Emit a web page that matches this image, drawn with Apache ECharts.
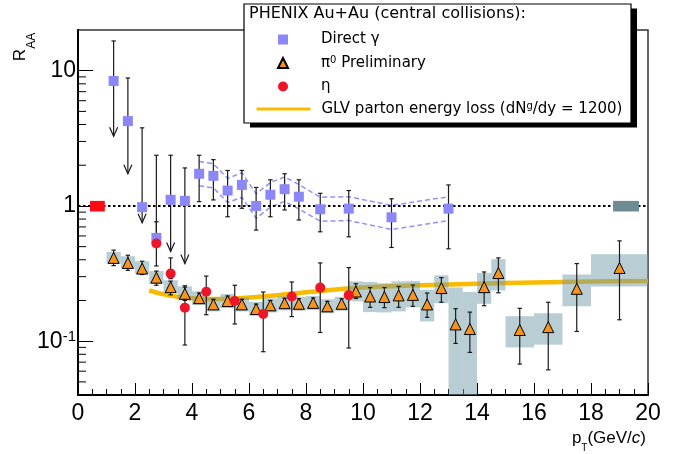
<!DOCTYPE html>
<html><head><meta charset="utf-8">
<script src="https://cdn.jsdelivr.net/npm/echarts@6/dist/echarts.min.js"></script>
<style>html,body{margin:0;padding:0;background:#fff}#c{width:683px;height:454px}</style>
</head><body><div id="c"></div>
<script>
// ---------------- data ----------------
const pi0X = [1.25,1.75,2.25,2.75,3.25,3.75,4.25,4.75,5.25,5.75,6.25,6.75,7.25,7.75,8.25,8.75,9.25,9.75,10.25,10.75,11.25,11.75,12.25,12.75,13.25,13.75,14.25,14.75,15.5,16.5,17.5,19];
const pi0BinW = [0.5,0.5,0.5,0.5,0.5,0.5,0.5,0.5,0.5,0.5,0.5,0.5,0.5,0.5,0.5,0.5,0.5,0.5,0.5,0.5,0.5,0.5,0.5,0.5,0.5,0.5,0.5,0.5,1,1,1,2];
const pi0Y = [0.413,0.379,0.344,0.295,0.251,0.224,0.208,0.187,0.198,0.187,0.173,0.184,0.191,0.189,0.192,0.181,0.189,0.233,0.214,0.212,0.218,0.220,0.187,0.247,0.133,0.123,0.251,0.319,0.121,0.127,0.244,0.348];
const pi0StatHi = [0.471,0.432,0.390,0.330,0.278,0.257,0.227,0.204,0.216,0.204,0.188,0.200,0.208,0.206,0.209,0.197,0.206,0.266,0.249,0.249,0.254,0.260,0.227,0.295,0.174,0.164,0.325,0.413,0.175,0.194,0.375,0.552];
const pi0StatLo = [0.362,0.334,0.311,0.259,0.220,0.200,0.191,0.172,0.182,0.172,0.159,0.169,0.175,0.174,0.176,0.166,0.174,0.207,0.178,0.177,0.178,0.181,0.150,0.194,0.0963,0.0826,0.183,0.228,0.0677,0.0614,0.118,0.144];
const pi0SysHi = [0.457,0.425,0.390,0.330,0.282,0.254,0.234,0.211,0.223,0.211,0.195,0.207,0.215,0.213,0.216,0.204,0.213,0.277,0.274,0.268,0.277,0.278,0.240,0.307,0.249,0.231,0.319,0.404,0.153,0.161,0.311,0.440];
const pi0SysLo = [0.375,0.344,0.316,0.266,0.227,0.200,0.185,0.166,0.176,0.166,0.154,0.163,0.169,0.168,0.170,0.161,0.168,0.197,0.164,0.163,0.166,0.178,0.140,0.191,0.03,0.03,0.189,0.237,0.0899,0.0942,0.181,0.254];

const etaX = [2.75,3.25,3.75,4.5,5.5,6.5,7.5,8.5,9.5];
const etaY = [0.528,0.316,0.177,0.232,0.198,0.159,0.214,0.249,0.219];
const etaErrHi = [0.764,0.413,0.251,0.303,0.259,0.231,0.274,0.379,0.350];
const etaErrLo = [0.36,0.29,0.0937,0.157,0.134,0.0836,0.152,0.116,0.089];

const gammaX = [1.25,1.75,2.25,2.75,3.25,3.75,4.25,4.75,5.25,5.75,6.25,6.75,7.25,7.75,8.5,9.5,11,13];
const gammaY = [8.4,4.24,0.98,0.58,1.11,1.09,1.73,1.67,1.30,1.43,1.00,1.21,1.33,1.17,0.945,0.955,0.824,0.955];
const gammaErrHi = [16.6,8.84,3.78,2.37,2.37,1.91,2.37,2.20,1.83,1.83,1.37,1.56,1.73,1.56,1.24,1.30,1.13,1.43];
const gammaErrLo = [3.27,1.73,0.75,0.53,0.46,0.375,1.076,1.108,0.832,0.961,0.663,0.832,0.934,0.787,0.644,0.591,0.493,0.482];
const gammaUpperLimit = [1,1,1,0,1,1,0,0,0,0,0,0,0,0,0,0,0,0];
const gammaSysX = [4.25,4.75,5.25,5.75,6.25,6.75,7.25,7.75,8.5,9.5,11,13];
const gammaSysHi = [2.13,2.05,1.60,1.76,1.23,1.49,1.64,1.44,1.16,1.17,1.01,1.17];
const gammaSysLo = [1.41,1.36,1.06,1.16,0.81,0.98,1.08,0.95,0.77,0.78,0.67,0.78];

const glvX = [2.5,3,3.5,4,5,6,7,8,10,12,14,16,18,20];
const glvY = [0.237,0.222,0.213,0.208,0.205,0.210,0.219,0.230,0.249,0.259,0.266,0.272,0.276,0.279];

const normX = [0.68, 19.23];
const normW = [0.52, 0.91];
const normLo = [0.91, 0.91];
const normHi = [1.09, 1.09];

const yMajorTicks = [0.1, 1, 10];
const yTickLabels = ['{b|10}{s|-1}', '{b|1}', '{b|10}'];
const yMinorTicks = [0.05,0.06,0.07,0.08,0.09,0.2,0.3,0.4,0.5,0.6,0.7,0.8,0.9,2,3,4,5,6,7,8,9];

const names = {
  gamma: 'Direct γ',
  pi0: 'π0 Preliminary',
  eta: 'η',
  glv: 'GLV parton energy loss (dNg/dy = 1200)'
};
const legendRich = {};
legendRich[names.gamma] = '{t|Direct γ}';
legendRich[names.pi0] = '{t|π}{u|0}{t| Preliminary}';
legendRich[names.eta] = '{t|η}';
legendRich[names.glv] = '{t|GLV parton energy loss (dN}{u|g}{t|/dy = 1200)}';

// ---------------- render helpers ----------------
const FONT = 'Liberation Sans, Arial, sans-serif';
const LFONT = 'DejaVu Sans, sans-serif';
const ERR = '#1a1a1a';

function boxItem(params, api) {
  const x = api.value(0), w = api.value(1), lo = api.value(2), hi = api.value(3);
  const p1 = api.coord([x - w / 2, hi]);
  const p2 = api.coord([x + w / 2, lo]);
  const cs = params.coordSys;
  const r = echarts.graphic.clipRectByRect(
    {x: p1[0], y: p1[1], width: p2[0] - p1[0], height: p2[1] - p1[1]},
    {x: cs.x, y: cs.y, width: cs.width, height: cs.height});
  return r && {type: 'rect', shape: r, style: {fill: api.visual('color')}};
}

function errItem(params, api) {
  const x = api.value(0), lo = api.value(1), hi = api.value(2), lim = api.value(3);
  const t = api.coord([x, hi]), b = api.coord([x, lo]);
  const c = 2.2;
  const st = {stroke: ERR, lineWidth: 1.2, fill: null};
  const ch = [
    {type: 'line', shape: {x1: t[0], y1: t[1], x2: b[0], y2: b[1]}, style: st},
    {type: 'line', shape: {x1: t[0] - c, y1: t[1], x2: t[0] + c, y2: t[1]}, style: st}
  ];
  if (lim === 1) {
    ch.push({type: 'polyline', shape: {points: [[b[0] - 4, b[1] - 9], [b[0], b[1]], [b[0] + 4, b[1] - 9]]}, style: st});
  } else {
    ch.push({type: 'line', shape: {x1: b[0] - c, y1: b[1], x2: b[0] + c, y2: b[1]}, style: st});
  }
  return {type: 'group', children: ch};
}

function minorTickItem(params, api) {
  const p = api.coord([0, api.value(1)]);
  return {type: 'line', shape: {x1: p[0], y1: p[1], x2: p[0] + 8, y2: p[1]}, style: {stroke: '#000', lineWidth: 1}};
}

const chart = echarts.init(document.getElementById('c'));
chart.setOption({
  animation: false,
  backgroundColor: '#fff',
  grid: {left: 78, right: 35, top: 30, bottom: 59, show: true, borderColor: '#333', borderWidth: 1.5, outerBoundsMode: 'none'},
  title: {
    text: 'PHENIX Au+Au (central collisions):', left: 249, top: 6, padding: 0, z: 20,
    textStyle: {fontFamily: LFONT, fontSize: 16, fontWeight: 'normal', color: '#000'}
  },
  legend: [
    {
      data: [names.gamma, names.pi0, names.eta], orient: 'vertical', left: 277, top: 32,
      itemWidth: 10, itemHeight: 10, itemGap: 8.5, selectedMode: false, z: 20, padding: 0,
      formatter: n => legendRich[n],
      textStyle: {color: '#000', fontFamily: LFONT, fontSize: 15, padding: [0, 0, 0, 28],
        rich: {t: {fontFamily: LFONT, fontSize: 15, color: '#000'}, u: {fontFamily: LFONT, fontSize: 10, color: '#000', verticalAlign: 'top'}}}
    },
    {
      data: [names.glv], orient: 'vertical', left: 255, top: 101.5,
      itemWidth: 54, itemHeight: 12, selectedMode: false, z: 20, padding: 0,
      lineStyle: {width: 3, opacity: 1},
      itemStyle: {opacity: 0},
      formatter: n => legendRich[n],
      textStyle: {color: '#000', fontFamily: LFONT, fontSize: 15, padding: [0, 0, 0, 6],
        rich: {t: {fontFamily: LFONT, fontSize: 15, color: '#000'}, u: {fontFamily: LFONT, fontSize: 10, color: '#000', verticalAlign: 'top'}}}
    }
  ],
  graphic: {elements: [
    {type: 'rect', z: 10, shape: {x: 250, y: 8.5, width: 387, height: 119}, style: {fill: '#000'}},
    {type: 'rect', z: 11, shape: {x: 244, y: 4, width: 387, height: 119}, style: {fill: '#fff', stroke: '#000', lineWidth: 1.2}},
    {type: 'text', z: 12, x: 25, y: 47, rotation: Math.PI / 2,
      style: {text: '{r|R}{s|AA}', align: 'center', verticalAlign: 'middle',
        rich: {r: {fontFamily: FONT, fontSize: 17, lineHeight: 26, verticalAlign: 'top', fill: '#000', color: '#000'},
               s: {fontFamily: FONT, fontSize: 12, verticalAlign: 'bottom', fill: '#000', color: '#000'}}}},
    {type: 'text', z: 12, x: 646, y: 430,
      style: {text: '{n|p}{t|T}{n|(GeV/}{i|c}{n|)}', align: 'right', verticalAlign: 'top',
        rich: {n: {fontFamily: FONT, fontSize: 17, lineHeight: 23, verticalAlign: 'top', fill: '#000', color: '#000'},
               i: {fontFamily: FONT, fontStyle: 'italic', fontSize: 17, lineHeight: 23, verticalAlign: 'top', fill: '#000', color: '#000'},
               t: {fontFamily: FONT, fontSize: 10, verticalAlign: 'bottom', fill: '#000', color: '#000'}}}}
  ]},
  xAxis: {
    type: 'value', min: 0, max: 20, interval: 2,
    axisLine: {show: true, lineStyle: {color: '#000', width: 2}},
    axisTick: {show: true, inside: true, length: 12, lineStyle: {color: '#000', width: 1}},
    minorTick: {show: true, splitNumber: 4, length: 6, lineStyle: {color: '#000', width: 1}},
    axisLabel: {fontFamily: FONT, fontSize: 23, color: '#000', margin: 7},
    splitLine: {show: false}
  },
  yAxis: {
    type: 'log', logBase: 10, min: 0.04, max: 20,
    axisLine: {show: true, lineStyle: {color: '#000', width: 2}},
    axisTick: {show: true, inside: true, length: 15, lineStyle: {color: '#000', width: 1}},
    axisLabel: {
      margin: 2, color: '#000', showMinLabel: false, showMaxLabel: false,
      formatter: v => {
        for (let i = 0; i < yMajorTicks.length; i++) {
          if (Math.abs(Math.log10(v) - Math.log10(yMajorTicks[i])) < 1e-6) return yTickLabels[i];
        }
        return '';
      },
      rich: {b: {fontFamily: FONT, fontSize: 23, color: '#000'}, s: {fontFamily: FONT, fontSize: 15, color: '#000', verticalAlign: 'top'}}
    },
    splitLine: {show: false}
  },
  series: [
    {
      name: names.glv, type: 'line', z: 2, smooth: 0.4, symbol: 'none', silent: true,
      data: glvX.map((x, i) => [x, glvY[i]]),
      lineStyle: {color: '#f9bb00', width: 4.5}, itemStyle: {color: '#f9bb00'},
      markLine: {symbol: 'none', silent: true, label: {show: false},
        lineStyle: {color: '#000', width: 2, type: [2.5, 2.5]}, data: [{yAxis: 1}]}
    },
    {
      name: 'pi0 sys', type: 'custom', z: 3, silent: true, renderItem: boxItem,
      itemStyle: {color: 'rgba(115,155,170,0.5)'}, encode: {x: 0, y: [2, 3]},
      data: pi0X.map((x, i) => [x, pi0BinW[i], pi0SysLo[i], pi0SysHi[i]])
    },
    {
      name: 'norm red', type: 'custom', z: 6, silent: true, renderItem: boxItem,
      itemStyle: {color: '#ff0a14'}, encode: {x: 0, y: [2, 3]},
      data: [[normX[0], normW[0], normLo[0], normHi[0]]]
    },
    {
      name: 'norm grey', type: 'custom', z: 6, silent: true, renderItem: boxItem,
      itemStyle: {color: '#6e8c94'}, encode: {x: 0, y: [2, 3]},
      data: [[normX[1], normW[1], normLo[1], normHi[1]]]
    },
    {
      name: 'gamma sys hi', type: 'line', z: 3, symbol: 'none', silent: true,
      data: gammaSysX.map((x, i) => [x, gammaSysHi[i]]),
      lineStyle: {color: '#9590f5', width: 1.5, type: [5, 3]}
    },
    {
      name: 'gamma sys lo', type: 'line', z: 3, symbol: 'none', silent: true,
      data: gammaSysX.map((x, i) => [x, gammaSysLo[i]]),
      lineStyle: {color: '#9590f5', width: 1.5, type: [5, 3]}
    },
    {
      name: 'y minor ticks', type: 'custom', z: 4, silent: true, renderItem: minorTickItem,
      encode: {x: 0, y: 1}, data: yMinorTicks.map(v => [0, v])
    },
    {
      name: 'pi0 stat', type: 'custom', z: 4, silent: true, renderItem: errItem, encode: {x: 0, y: [1, 2]},
      data: pi0X.map((x, i) => [x, pi0StatLo[i], pi0StatHi[i], 0])
    },
    {
      name: 'eta stat', type: 'custom', z: 4, silent: true, renderItem: errItem, encode: {x: 0, y: [1, 2]},
      data: etaX.map((x, i) => [x, etaErrLo[i], etaErrHi[i], 0])
    },
    {
      name: 'gamma stat', type: 'custom', z: 4, silent: true, renderItem: errItem, encode: {x: 0, y: [1, 2]},
      data: gammaX.map((x, i) => [x, gammaErrLo[i], gammaErrHi[i], gammaUpperLimit[i]])
    },
    {
      name: names.gamma, type: 'scatter', z: 5, symbol: 'rect', symbolSize: 10,
      itemStyle: {color: '#8c87f8', opacity: 1},
      data: gammaX.map((x, i) => [x, gammaY[i]])
    },
    {
      name: names.pi0, type: 'scatter', z: 5, symbol: 'triangle', symbolSize: 11,
      itemStyle: {color: '#f7941d', borderColor: '#000', borderWidth: 1, opacity: 1},
      data: pi0X.map((x, i) => [x, pi0Y[i]])
    },
    {
      name: names.eta, type: 'scatter', z: 5, symbol: 'circle', symbolSize: 10,
      itemStyle: {color: '#f01428', opacity: 1},
      data: etaX.map((x, i) => [x, etaY[i]])
    }
  ]
});
</script></body></html>
